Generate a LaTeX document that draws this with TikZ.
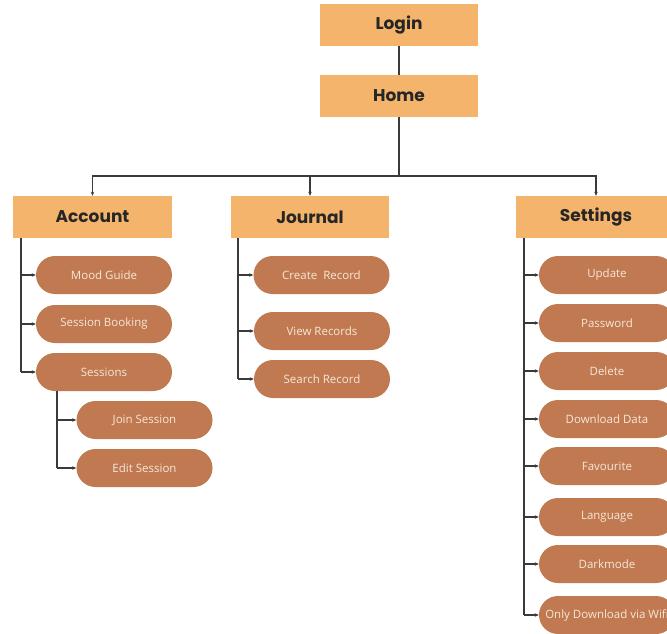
\documentclass[tikz,border=0pt]{standalone}
\usepackage{fontspec}
\setmainfont{Open Sans}
\newfontfamily\headfont{Poppins}
\usetikzlibrary{arrows.meta}
\definecolor{headfill}{HTML}{F5B46C}
\definecolor{pillfill}{HTML}{C07950}
\definecolor{pilltext}{HTML}{F7E8DA}
\definecolor{linec}{HTML}{3A3A3A}
\begin{document}
\begin{tikzpicture}[x=1pt,y=-1pt,
  headbox/.style={fill=headfill, minimum width=158pt, minimum height=42pt, inner sep=0pt,
     font=\headfont\fontsize{17}{19}\selectfont\bfseries, text=black!85},
  pill/.style={fill=pillfill, rounded corners=19pt, minimum width=136pt, minimum height=38pt,
     inner sep=0pt, font=\fontsize{11.5}{13}\selectfont, text=pilltext},
  conn/.style={draw=linec, line width=1.1pt},
  arr/.style={draw=linec, line width=1.1pt, -{Stealth[length=4pt,width=3.5pt]}}]
\useasboundingbox (0,0) rectangle (667,634);
\clip (0,0) rectangle (667,634);
% headers
\node[headbox] (login) at (399,25) {Login};
\node[headbox] (home) at (399,96) {Home};
\node[headbox, minimum width=159pt] (account) at (92.5,217) {Account};
\node[headbox] (journal) at (310,217) {Journal};
\node[headbox, minimum width=160pt] (settings) at (596,217) {Settings};
% pills account
\node[pill] (mood) at (104,275) {Mood Guide};
\node[pill] (booking) at (104,324) {Session Booking};
\node[pill] (sessions) at (104,372) {Sessions};
\node[pill] (join) at (144.5,420) {Join Session};
\node[pill] (edit) at (144.5,468) {Edit Session};
% journal
\node[pill] (create) at (321.5,275) {Create\ \ Record};
\node[pill] (view) at (322,331) {View Records};
\node[pill] (search) at (322,379) {Search Record};
% settings
\node[pill] (update) at (607,275) {Update};
\node[pill] (password) at (607,323) {Password};
\node[pill] (delete) at (607,371) {Delete};
\node[pill] (download) at (607,419) {Download Data};
\node[pill] (fav) at (607,466) {Favourite};
\node[pill] (lang) at (607,517) {Language};
\node[pill] (dark) at (607,564) {Darkmode};
\node[pill] (wifi) at (607,615) {Only Download via Wifi};
% connectors
\draw[conn] (login.south) -- (home.north);
\coordinate (hub) at (399,176);
\draw[conn] (home.south) -- (hub);
\draw[arr] (hub) -| (account.north);
\draw[arr] (hub) -| (journal.north);
\draw[arr] (hub) -| (settings.north);
% account
\coordinate (aline) at (21,238);
\draw[conn] (aline) -- (21,372);
\foreach \n in {mood,booking,sessions} \draw[arr] (aline |- \n.west) -- (\n.west);
\coordinate (sline) at (57,391);
\draw[conn] (sline) -- (57,468);
\foreach \n in {join,edit} \draw[arr] (sline |- \n.west) -- (\n.west);
% journal
\coordinate (jline) at (238,238);
\draw[conn] (jline) -- (238,379);
\foreach \n in {create,view,search} \draw[arr] (jline |- \n.west) -- (\n.west);
% settings
\coordinate (tline) at (524,238);
\draw[conn] (tline) -- (524,615);
\foreach \n in {update,password,delete,download,fav,lang,dark,wifi} \draw[arr] (tline |- \n.west) -- (\n.west);
\end{tikzpicture}
\end{document}
